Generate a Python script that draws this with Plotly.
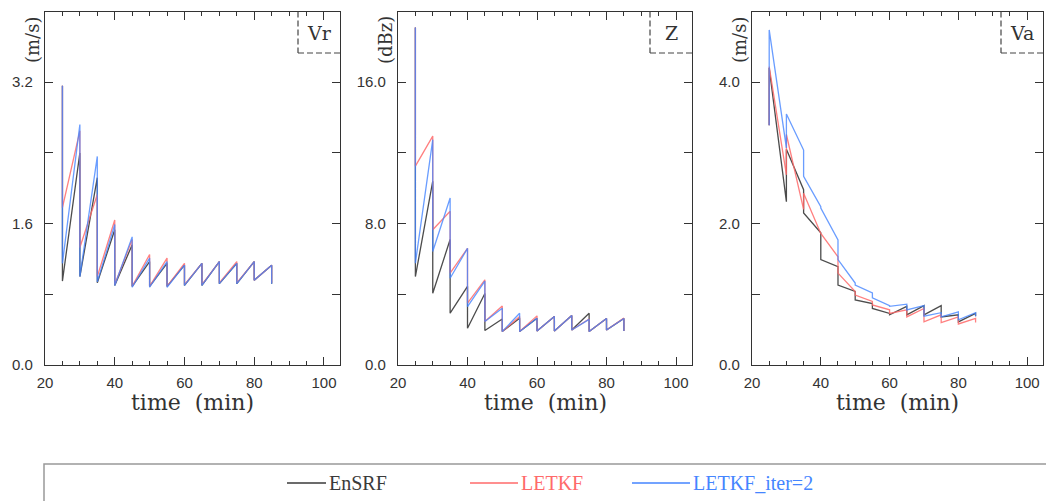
import plotly.graph_objects as go

W, H = 1046, 501

times = [25, 30, 35, 40, 45, 50, 55, 60, 65, 70, 75, 80, 85]

# Vr (m/s): forecast (prior) and analysis values at each cycle
vr_ensrf_f = [3.16, 2.40, 2.12, 1.53, 1.36, 1.17, 1.15, 1.13, 1.15, 1.17, 1.15, 1.17, 1.13]
vr_ensrf_a = [0.95, 1.00, 0.93, 0.90, 0.89, 0.89, 0.89, 0.90, 0.90, 0.92, 0.92, 0.96, 0.92]
vr_letkf_f = [3.16, 2.65, 1.93, 1.64, 1.42, 1.25, 1.21, 1.15, 1.15, 1.17, 1.17, 1.17, 1.13]
vr_letkf_a = [1.78, 1.33, 1.00, 0.91, 0.89, 0.89, 0.89, 0.91, 0.91, 0.93, 0.93, 0.96, 0.93]
vr_iter_f = [3.16, 2.72, 2.36, 1.59, 1.45, 1.21, 1.17, 1.13, 1.15, 1.17, 1.15, 1.17, 1.13]
vr_iter_a = [1.15, 1.00, 0.94, 0.90, 0.88, 0.88, 0.88, 0.90, 0.90, 0.92, 0.92, 0.96, 0.92]

# Z (dBz)
z_ensrf_f = [19.1, 10.4, 7.1, 4.45, 4.05, 2.6, 2.64, 2.64, 2.74, 2.8, 2.93, 2.63, 2.63]
z_ensrf_a = [5.0, 4.06, 2.93, 2.08, 1.95, 1.89, 1.89, 1.92, 1.92, 1.98, 1.89, 1.98, 1.92]
z_letkf_f = [19.1, 12.95, 8.7, 6.6, 4.82, 3.34, 2.75, 2.78, 2.74, 2.8, 2.6, 2.63, 2.65]
z_letkf_a = [11.25, 7.65, 5.2, 3.5, 2.46, 1.89, 1.89, 1.92, 1.92, 1.98, 1.89, 1.98, 1.92]
z_iter_f = [19.1, 12.75, 9.45, 6.6, 4.75, 3.21, 2.93, 2.64, 2.74, 2.8, 2.58, 2.63, 2.63]
z_iter_a = [5.76, 6.42, 4.91, 3.3, 2.46, 1.89, 1.89, 1.92, 1.92, 1.98, 1.89, 1.98, 1.92]

# Va (m/s)
va_ensrf_f = [3.39, 2.31, 2.48, 1.87, 1.39, 1.04, 0.87, 0.73, 0.83, 0.84, 0.84, 0.71, 0.73]
va_ensrf_a = [4.20, 3.05, 2.15, 1.49, 1.13, 0.92, 0.80, 0.71, 0.71, 0.71, 0.68, 0.61, 0.69]
va_letkf_f = [3.39, 2.69, 2.20, 1.86, 1.53, 1.04, 0.90, 0.78, 0.78, 0.80, 0.71, 0.68, 0.66]
va_letkf_a = [4.22, 3.26, 2.43, 1.86, 1.30, 0.99, 0.85, 0.73, 0.68, 0.61, 0.60, 0.58, 0.60]
va_iter_f = [3.39, 3.07, 3.04, 2.24, 1.77, 1.16, 1.02, 0.84, 0.86, 0.84, 0.74, 0.75, 0.74]
va_iter_a = [4.74, 3.55, 2.67, 2.22, 1.49, 1.13, 0.95, 0.83, 0.78, 0.69, 0.68, 0.64, 0.69]

series_names = ["EnSRF", "LETKF", "LETKF_iter=2"]
colors = ["#3a3a3a", "#ff6a6a", "#4585ff"]
opacities = [0.9, 0.85, 0.8]

panel_labels = ["Vr", "Z", "Va"]
units = ["(m/s)", "(dBz)", "(m/s)"]
y_ranges = [[0, 4.0], [0, 20.0], [0, 5.0]]
y_tickvals = [[0, 0.8, 1.6, 2.4, 3.2, 4.0], [0, 4, 8, 12, 16, 20], [0, 1, 2, 3, 4, 5]]
y_ticktext = [["0.0", "", "1.6", "", "3.2", ""], ["0.0", "", "8.0", "", "16.0", ""],
              ["0.0", "", "2.0", "", "4.0", ""]]
x_tickvals = [20, 40, 60, 80, 100]

panels = [
    [(vr_ensrf_f, vr_ensrf_a), (vr_letkf_f, vr_letkf_a), (vr_iter_f, vr_iter_a)],
    [(z_ensrf_f, z_ensrf_a), (z_letkf_f, z_letkf_a), (z_iter_f, z_iter_a)],
    [(va_ensrf_f, va_ensrf_a), (va_letkf_f, va_letkf_a), (va_iter_f, va_iter_a)],
]

# pixel geometry of panels (screen pixels)
px_left = [45, 398, 752]
px_right = [340, 692, 1043]
px_top, px_bot = 11.5, 365


def px(x):
    return x / W


def py(y):
    return (H - y) / H


fig = go.Figure()
for p, data in enumerate(panels):
    ax = "" if p == 0 else str(p + 1)
    for s, (f, a) in enumerate(data):
        xs, ys = [], []
        for t, fv, av in zip(times, f, a):
            xs += [t, t]
            ys += [fv, av]
        fig.add_trace(go.Scatter(
            x=xs, y=ys, mode="lines", name=series_names[s],
            line=dict(color=colors[s], width=1.3), opacity=opacities[s],
            showlegend=False, xaxis="x" + ax, yaxis="y" + ax))

axis_font = dict(family="Liberation Sans", size=15, color="#333")
shapes, annotations = [], []
for p in range(3):
    sfx = "" if p == 0 else str(p + 1)
    fig.update_layout({
        "xaxis" + sfx: dict(
            domain=[px(px_left[p]), px(px_right[p])], anchor="y" + sfx,
            range=[20, 104.6], tickvals=x_tickvals, ticks="inside", ticklen=8,
            tickwidth=1.2, tickcolor="#333", showline=True, linecolor="#333",
            linewidth=1.3, mirror="allticks", showgrid=False, zeroline=False,
            tickfont=axis_font, ticklabelstandoff=4, automargin=False,
            minor=dict(tick0=20, dtick=5, ticks="inside", ticklen=4,
                       tickcolor="#333", tickwidth=1, showgrid=False)),
        "yaxis" + sfx: dict(
            domain=[py(px_bot), py(px_top)], anchor="x" + sfx,
            range=y_ranges[p], tickvals=y_tickvals[p], ticktext=y_ticktext[p],
            ticks="inside", ticklen=8, tickwidth=1.2, tickcolor="#333",
            showline=True, linecolor="#333", linewidth=1.3, mirror="allticks",
            showgrid=False, zeroline=False, tickfont=axis_font,
            ticklabelstandoff=8, automargin=False),
    })
    # panel label box (dashed left/bottom edges)
    bx0 = px_right[p] - 42
    by1 = 53
    dash = dict(color="#444", width=1.2, dash="6px,3px")
    shapes.append(dict(type="line", xref="paper", yref="paper",
                       x0=px(bx0), x1=px(bx0), y0=py(px_top), y1=py(by1), line=dash))
    shapes.append(dict(type="line", xref="paper", yref="paper",
                       x0=px(bx0), x1=px(px_right[p]), y0=py(by1), y1=py(by1), line=dash))
    annotations.append(dict(text=panel_labels[p], xref="paper", yref="paper",
                            x=px((bx0 + px_right[p]) / 2), y=py(33), showarrow=False,
                            xanchor="center", yanchor="middle",
                            font=dict(family="DejaVu Serif", size=19, color="#333")))
    # y title
    annotations.append(dict(text=units[p], xref="paper", yref="paper",
                            x=px(px_left[p] - 13), y=py(40), showarrow=False,
                            textangle=-90, xanchor="center", yanchor="middle",
                            font=dict(family="DejaVu Serif", size=18, color="#333")))
    # x title
    annotations.append(dict(text="time&nbsp;&nbsp;(min)", xref="paper", yref="paper",
                            x=px((px_left[p] + px_right[p]) / 2), y=py(402),
                            showarrow=False, xanchor="center", yanchor="middle",
                            font=dict(family="DejaVu Serif", size=22, color="#333")))

# legend box
shapes.append(dict(type="rect", xref="paper", yref="paper",
                   x0=px(44), x1=px(1070), y0=py(530), y1=py(464),
                   line=dict(color="#999", width=1.5)))
leg_line = [(287, 326), (470, 518), (632, 690)]
leg_y = 483
for s in range(3):
    shapes.append(dict(type="line", xref="paper", yref="paper",
                       x0=px(leg_line[s][0]), x1=px(leg_line[s][1]),
                       y0=py(leg_y), y1=py(leg_y),
                       line=dict(color=colors[s], width=1.3)))
    annotations.append(dict(text=series_names[s], xref="paper", yref="paper",
                            x=px(leg_line[s][1] + 1), y=py(leg_y), showarrow=False,
                            xanchor="left", yanchor="middle",
                            font=dict(family="Liberation Serif", size=20, color=colors[s])))

fig.update_layout(
    width=W, height=H, margin=dict(l=0, r=0, t=0, b=0),
    paper_bgcolor="white", plot_bgcolor="white",
    shapes=shapes, annotations=annotations, showlegend=False,
)
fig.write_html(
    "out.html",
    config={"displayModeBar": False},
    post_script="document.body.style.margin='0';"
                "document.documentElement.style.overflow='hidden';"
                "document.body.style.overflow='hidden';",
)
